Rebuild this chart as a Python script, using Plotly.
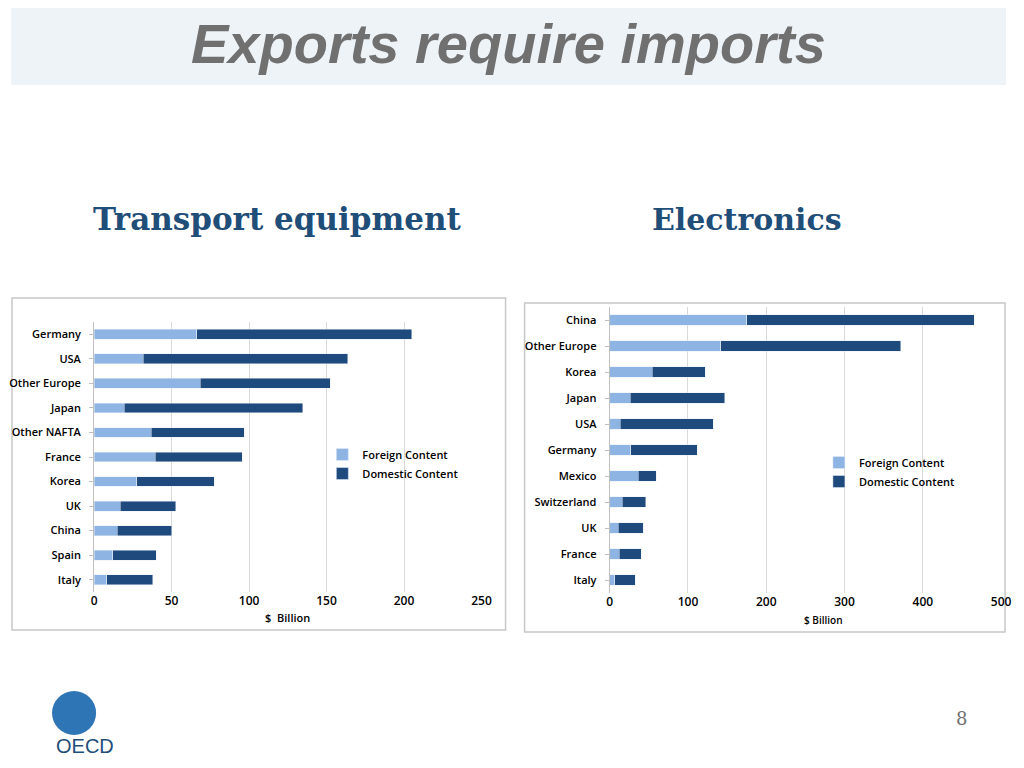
import plotly.graph_objects as go

# Transport equipment
te_countries = ['Germany', 'USA', 'Other Europe', 'Japan', 'Other NAFTA', 'France',
                'Korea', 'UK', 'China', 'Spain', 'Italy']
te_foreign = [66.4, 31.7, 68.5, 19.6, 37.0, 39.4, 27.4, 16.8, 15.1, 12.1, 8.2]
te_total = [205.0, 163.8, 152.4, 134.5, 96.8, 95.7, 77.6, 52.6, 50.2, 40.0, 37.9]
te_domestic = [t - f for t, f in zip(te_total, te_foreign)]

# Electronics
el_countries = ['China', 'Other Europe', 'Korea', 'Japan', 'USA', 'Germany',
                'Mexico', 'Switzerland', 'UK', 'France', 'Italy']
el_foreign = [175.0, 141.7, 54.2, 26.3, 13.8, 26.7, 36.3, 16.3, 10.8, 12.1, 6.3]
el_total = [466.0, 371.7, 122.0, 146.7, 132.5, 112.0, 59.6, 46.3, 42.9, 40.4, 32.5]
el_domestic = [t - f for t, f in zip(el_total, el_foreign)]

LIGHT = '#8EB4E3'
DARK = '#1F4A7E'

# map screen pixels to paper coords (measured from earlier renders)
W, H = 1008, 752
def X(p):
    return min(max((p - 11) / (0.986 * W), 0), 1)
def Y(p):
    return 1 - (p - 8) / H

fig = go.Figure()
fig.add_bar(y=te_countries, x=te_foreign, orientation='h', marker_color=LIGHT, legendgroup='a',
            name='Foreign Content', xaxis='x', yaxis='y', legend='legend', width=0.4)
fig.add_bar(y=te_countries, x=te_domestic, orientation='h', marker_color=DARK, legendgroup='b',
            name='Domestic Content', xaxis='x', yaxis='y', legend='legend', width=0.4)
fig.add_bar(y=el_countries, x=el_foreign, orientation='h', marker_color=LIGHT, legendgroup='c',
            name='Foreign Content', xaxis='x2', yaxis='y2', legend='legend2', width=0.4)
fig.add_bar(y=el_countries, x=el_domestic, orientation='h', marker_color=DARK, legendgroup='d',
            name='Domestic Content', xaxis='x2', yaxis='y2', legend='legend2', width=0.4)

lblfont = dict(family='Open Sans', size=11, color='black', weight=600)
numfont = dict(family='Open Sans', size=12, color='black', weight=600)

fig.update_layout(
    width=W, height=H, margin=dict(l=0, r=0, t=0, b=0),
    paper_bgcolor='white', plot_bgcolor='white', barmode='stack',
    font=lblfont,
    xaxis=dict(domain=[X(94), X(481)], range=[0, 250], dtick=50, showgrid=True,
               gridcolor='#d9d9d9', anchor='y', tickfont=numfont,
               zeroline=False, showline=False, ticks=''),
    yaxis=dict(domain=[Y(592), Y(322)], autorange='reversed', categoryorder='array',
               categoryarray=te_countries, anchor='x', showline=True, linecolor='#bfbfbf',
               ticks='outside', tickcolor='#bfbfbf', ticklen=4, ticklabelstandoff=6,
               tickfont=lblfont),
    xaxis2=dict(domain=[X(609), X(1000)], range=[0, 500], dtick=100, showgrid=True,
                gridcolor='#d9d9d9', anchor='y2', tickfont=numfont,
                zeroline=False, showline=False, ticks=''),
    yaxis2=dict(domain=[Y(593), Y(307)], autorange='reversed', categoryorder='array',
                categoryarray=el_countries, anchor='x2', showline=True, linecolor='#bfbfbf',
                ticks='outside', tickcolor='#bfbfbf', ticklen=4, ticklabelstandoff=6,
                tickfont=lblfont),
    legend=dict(x=X(322), y=Y(440), xanchor='left', yanchor='top', font=lblfont,
                tracegroupgap=16, bgcolor='rgba(0,0,0,0)', traceorder='normal'),
    legend2=dict(x=X(818), y=Y(448), xanchor='left', yanchor='top', font=lblfont,
                 tracegroupgap=4, bgcolor='rgba(0,0,0,0)', traceorder='normal'),
    bargap=0.6,
)

# title band
fig.add_shape(type='rect', xref='paper', yref='paper', x0=0, x1=1, y0=Y(85), y1=1,
              fillcolor='#eef3f8', line_width=0, layer='below')
# chart frames
fig.add_shape(type='rect', xref='paper', yref='paper', x0=0.001, x1=X(505),
              y0=Y(630), y1=Y(298), line=dict(color='#c8c8c8', width=1.5), layer='below')
fig.add_shape(type='rect', xref='paper', yref='paper', x0=X(524), x1=0.999,
              y0=Y(632), y1=Y(303), line=dict(color='#c8c8c8', width=1.5), layer='below')

def text(t, x, y, font):
    fig.add_annotation(text=t, x=X(x), y=Y(y), xref='paper', yref='paper', showarrow=False,
                       xanchor='center', yanchor='middle', font=font)

text('<b><i>Exports require imports</i></b>', 508, 44,
     dict(family='Liberation Sans', size=56, color='#707070'))
text('<b>Transport equipment</b>', 277, 219, dict(family='DejaVu Serif', size=31, color='#1F4E79'))
text('<b>Electronics</b>', 746, 219, dict(family='DejaVu Serif', size=30, color='#1F4E79'))
text('$  Billion', 287, 617, lblfont)
text('$ Billion', 823, 620, dict(family='Open Sans', size=10, color='black', weight=600))
text('8', 960, 718, dict(family='DejaVu Serif', size=18, color='#707070', weight=400))

# simple OECD logo
fig.add_shape(type='circle', xref='paper', yref='paper', x0=X(52), x1=X(96),
              y0=Y(735), y1=Y(691), fillcolor='#2E75B6', line_width=0)
text('OECD', 85, 746, dict(family='Liberation Sans', size=20, color='#1F4E79', weight=400))

fig.write_html('out.html')
